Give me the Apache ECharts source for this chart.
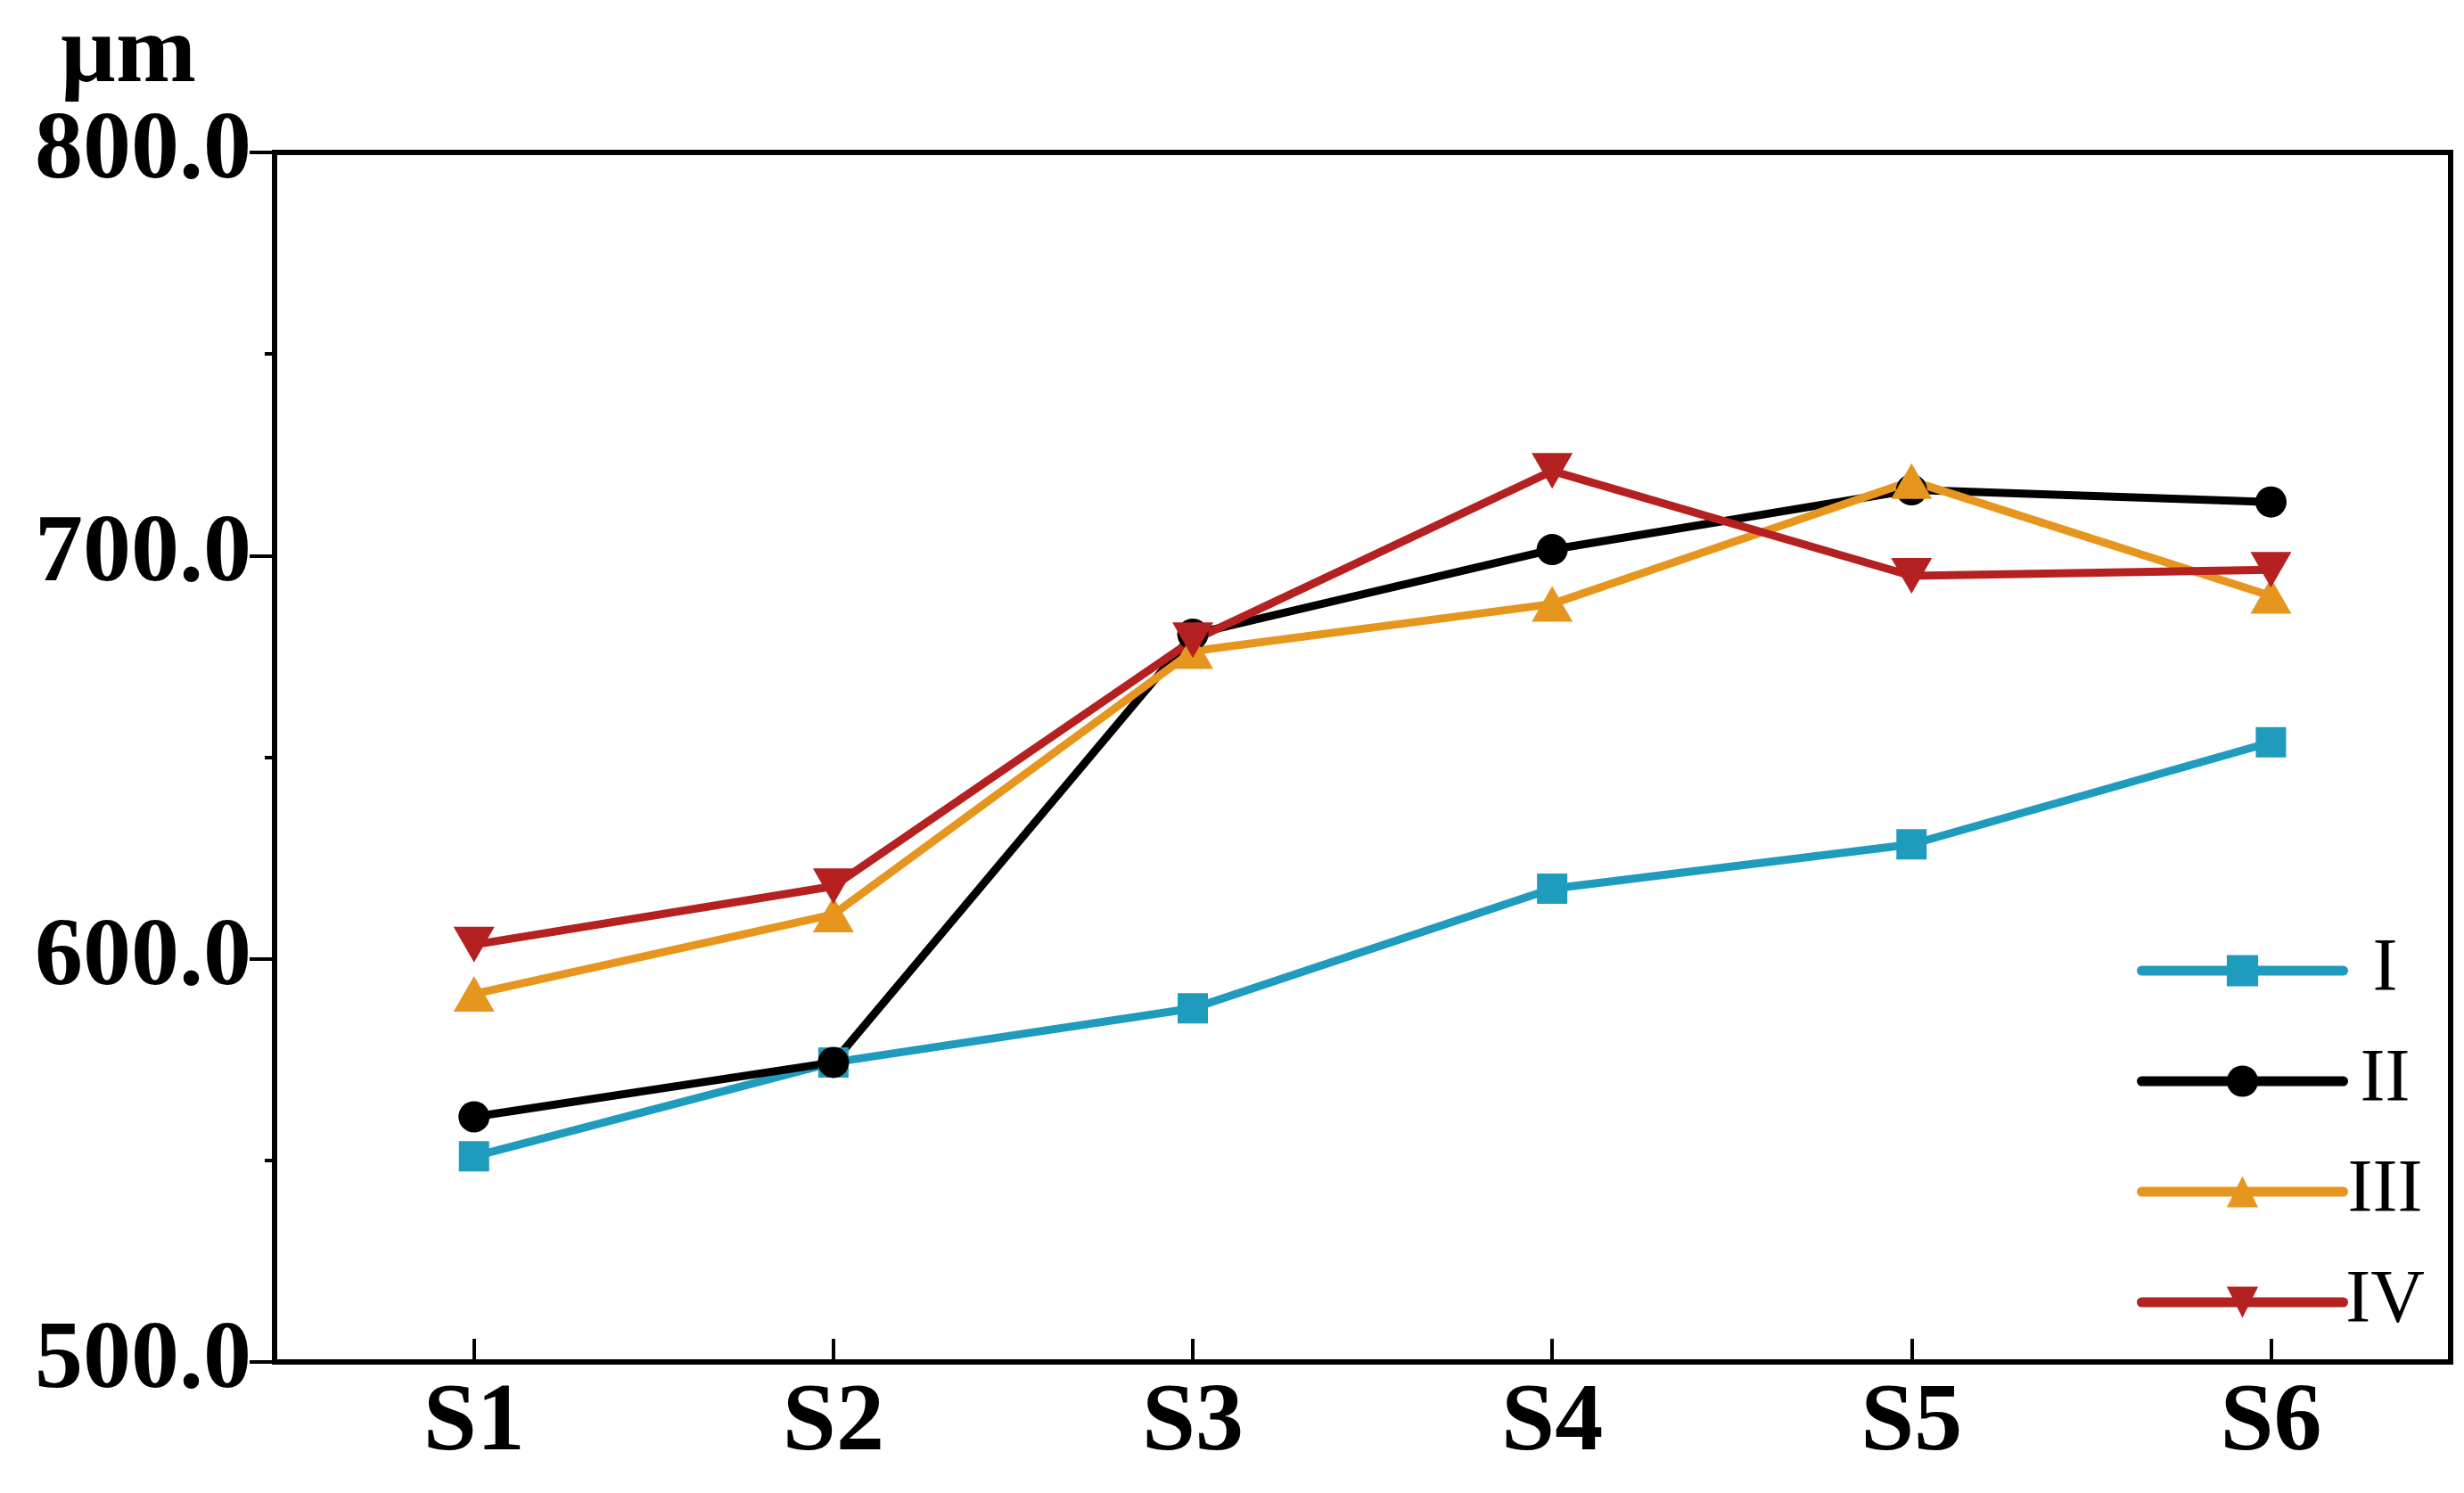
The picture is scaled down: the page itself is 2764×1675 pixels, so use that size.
<!DOCTYPE html>
<html>
<head>
<meta charset="utf-8">
<script src="https://cdn.jsdelivr.net/npm/echarts@6/dist/echarts.min.js"></script>
<style>
  html, body { margin: 0; padding: 0; background: #fff; }
  #chart { width: 2764px; height: 1675px; }
</style>
</head>
<body>
<div id="chart"></div>
<script>
const categories = ['S1', 'S2', 'S3', 'S4', 'S5', 'S6'];
const seriesNames = ['I', 'II', 'III', 'IV'];
const valuesI = [551, 574.3, 587.7, 617.4, 628.4, 653.7];
const valuesII = [560.8, 574.3, 680.5, 701.5, 716.3, 713.3];
const valuesIII = [591.3, 611, 676.3, 688, 718.5, 690];
const valuesIV = [603.5, 618, 679, 721, 695, 696.5];

const colors = ['#1e9bbd', '#000000', '#e6961e', '#b52020'];
const serif = '"Liberation Serif", "DejaVu Serif", serif';

// x positions 1..6, one per category
const positions = categories.map((c, i) => i + 1);

function makeSeries(name, values, color, symbol, size, rotate) {
  return {
    name: name,
    type: 'line',
    data: values.map((v, i) => [positions[i], v]),
    symbol: symbol,
    symbolSize: size,
    symbolRotate: rotate || 0,
    showSymbol: true,
    lineStyle: { color: color, width: 9 },
    itemStyle: { color: color },
    emphasis: { disabled: true }
  };
}

const chart = echarts.init(document.getElementById('chart'));

const option = {
  animation: false,
  backgroundColor: '#fff',
  grid: {
    left: 308,
    right: 15,
    top: 171,
    bottom: 147,
    show: true,
    borderColor: '#000',
    borderWidth: 6
  },
  legend: {
    orient: 'vertical',
    left: 2392,
    top: 1042,
    itemWidth: 226,
    itemHeight: 44,
    itemGap: 40,
    itemTextGap: 14,
    data: seriesNames,
    lineStyle: { width: 11, cap: 'round' },
    formatter: name => '{a|' + name + '}',
    textStyle: {
      fontFamily: serif,
      fontSize: 84,
      lineHeight: 84,
      color: '#000',
      rich: {
        a: {
          fontFamily: serif,
          fontSize: 84,
          lineHeight: 84,
          color: '#000',
          width: 84,
          align: 'center'
        }
      }
    }
  },
  xAxis: {
    type: 'value',
    min: 0.445,
    max: 6.5,
    splitLine: { show: false },
    axisLine: { lineStyle: { color: '#000', width: 6 } },
    axisTick: {
      inside: true,
      length: 26,
      customValues: positions,
      lineStyle: { color: '#000', width: 4 }
    },
    axisLabel: {
      customValues: positions,
      formatter: v => categories[Math.round(v) - 1],
      fontFamily: serif,
      fontWeight: 'bold',
      fontSize: 108,
      color: '#000',
      margin: 16
    }
  },
  yAxis: {
    type: 'value',
    min: 500,
    max: 800,
    interval: 100,
    name: 'µm',
    nameLocation: 'end',
    nameGap: 106,
    nameTextStyle: {
      fontFamily: serif,
      fontWeight: 'bold',
      fontSize: 108,
      color: '#000',
      align: 'right',
      verticalAlign: 'middle',
      padding: [0, 88, 0, 0]
    },
    splitLine: { show: false },
    axisLine: { show: true, lineStyle: { color: '#000', width: 6 } },
    axisTick: { length: 28, lineStyle: { color: '#000', width: 4 } },
    minorTick: { show: true, splitNumber: 2, length: 11, lineStyle: { color: '#000', width: 4 } },
    axisLabel: {
      formatter: v => v.toFixed(1),
      fontFamily: serif,
      fontWeight: 'bold',
      fontSize: 108,
      color: '#000',
      margin: 26
    }
  },
  series: [
    makeSeries(seriesNames[0], valuesI, colors[0], 'rect', 34),
    makeSeries(seriesNames[1], valuesII, colors[1], 'circle', 35),
    makeSeries(seriesNames[2], valuesIII, colors[2], 'triangle', [46, 40]),
    makeSeries(seriesNames[3], valuesIV, colors[3], 'triangle', [46, 40], 180)
  ]
};

chart.setOption(option);
</script>
</body>
</html>
